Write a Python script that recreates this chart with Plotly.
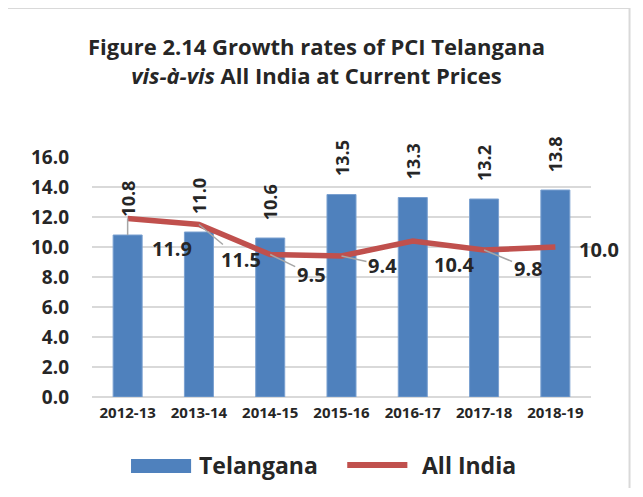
import plotly.graph_objects as go

years = ["2012-13", "2013-14", "2014-15", "2015-16", "2016-17", "2017-18", "2018-19"]
telangana = [10.8, 11.0, 10.6, 13.5, 13.3, 13.2, 13.8]
all_india = [11.9, 11.5, 9.5, 9.4, 10.4, 9.8, 10.0]
y_ticks = [0, 2, 4, 6, 8, 10, 12, 14, 16]

BLUE = "#4F81BD"
RED = "#C0504D"
TXT = "#262626"
GRID = "#D9D9D9"
LEADER = "#A6A6A6"
FONT = "Open Sans"

fig = go.Figure()
fig.add_trace(go.Bar(
    x=years, y=telangana, name="Telangana",
    marker=dict(color=BLUE, line=dict(color="#7aa0d0", width=1)),
    showlegend=False, hoverinfo="skip",
))
fig.add_trace(go.Scatter(
    x=years, y=all_india, name="All India", mode="lines",
    line=dict(color=RED, width=5.5), showlegend=False, hoverinfo="skip",
))

annotations = []
# Title (two lines)
annotations.append(dict(
    x=0.4503, y=1.4021, xref="paper", yref="paper",
    text="Figure 2.14 Growth rates of PCI Telangana<br><i>vis-à-vis</i> All India at Current Prices",
    showarrow=False, xanchor="center", yanchor="middle", align="center",
    font=dict(family=FONT, size=22, color=TXT, weight="bold"),
))

# Bar value labels (rotated, above bars; first one has a leader line)
bar_leader = [True, False, False, False, False, False, False]
for yr, v, ld in zip(years, telangana, bar_leader):
    annotations.append(dict(
        x=yr, y=v, xref="x", yref="y", text=f"{v:.1f}", textangle=-90,
        showarrow=True, ax=0, ay=-36, axref="pixel", ayref="pixel",
        arrowhead=0, arrowwidth=1.5,
        arrowcolor=LEADER if ld else "rgba(0,0,0,0)",
        font=dict(family=FONT, size=18, color=TXT, weight="bold"),
    ))

# Line value labels (offset from points, some with leader lines)
label_dx = [44, 42, 41, 41, 42, 44, 44]
label_dy = [30, 35, 20, 9, 23, 18, 2]
leader = [False, True, True, True, False, True, False]
for yr, v, dx, dy, ld in zip(years, all_india, label_dx, label_dy, leader):
    annotations.append(dict(
        x=yr, y=v, xref="x", yref="y", text=f"{v:.1f}",
        showarrow=True, ax=dx, ay=dy, axref="pixel", ayref="pixel",
        arrowhead=0, arrowwidth=1.5,
        arrowcolor=LEADER if ld else "rgba(0,0,0,0)",
        font=dict(family=FONT, size=20, color=TXT, weight="bold"),
    ))

# Legend (manual, to match wide swatches)
annotations.append(dict(
    x=0.2106, y=-0.2833, xref="paper", yref="paper", text="Telangana",
    showarrow=False, xanchor="left", yanchor="middle",
    font=dict(family=FONT, size=23, color=TXT, weight="bold"),
))
annotations.append(dict(
    x=0.658, y=-0.2833, xref="paper", yref="paper", text="All India",
    showarrow=False, xanchor="left", yanchor="middle",
    font=dict(family=FONT, size=23, color=TXT, weight="bold"),
))

shapes = [
    # outer card border
    dict(type="rect", xref="paper", yref="paper", x0=-0.1785, x1=1.0772,
         y0=-0.47, y1=1.6208, line=dict(color=GRID, width=2), layer="below"),
    # legend swatches
    dict(type="rect", xref="paper", yref="paper", x0=0.0782, x1=0.1986,
         y0=-0.3167, y1=-0.2583, fillcolor=BLUE, line=dict(width=0)),
    dict(type="line", xref="paper", yref="paper", x0=0.5115, x1=0.632,
         y0=-0.2833, y1=-0.2833, line=dict(color=RED, width=6)),
]

fig.update_layout(
    width=627, height=480,
    margin=dict(l=84, r=44, t=149, b=91),
    paper_bgcolor="white", plot_bgcolor="white",
    bargap=0.593,
    xaxis=dict(
        type="category", range=[-0.5, len(years) - 0.5],
        showgrid=False, showline=False, ticks="",
        tickfont=dict(family=FONT, size=15, color=TXT, weight="bold"),
        ticklabelstandoff=5, automargin=False,
    ),
    yaxis=dict(
        range=[0, 16], tickvals=y_ticks, ticktext=[f"{t:.1f}" for t in y_ticks],
        showgrid=True, gridcolor=GRID, gridwidth=2,
        zeroline=True, zerolinecolor=GRID, zerolinewidth=2,
        showline=False, ticks="",
        tickfont=dict(family=FONT, size=19, color=TXT, weight="bold"),
        ticklabelstandoff=22, automargin=False,
    ),
    annotations=annotations,
    shapes=shapes,
    showlegend=False,
)

fig.write_html("out.html")
